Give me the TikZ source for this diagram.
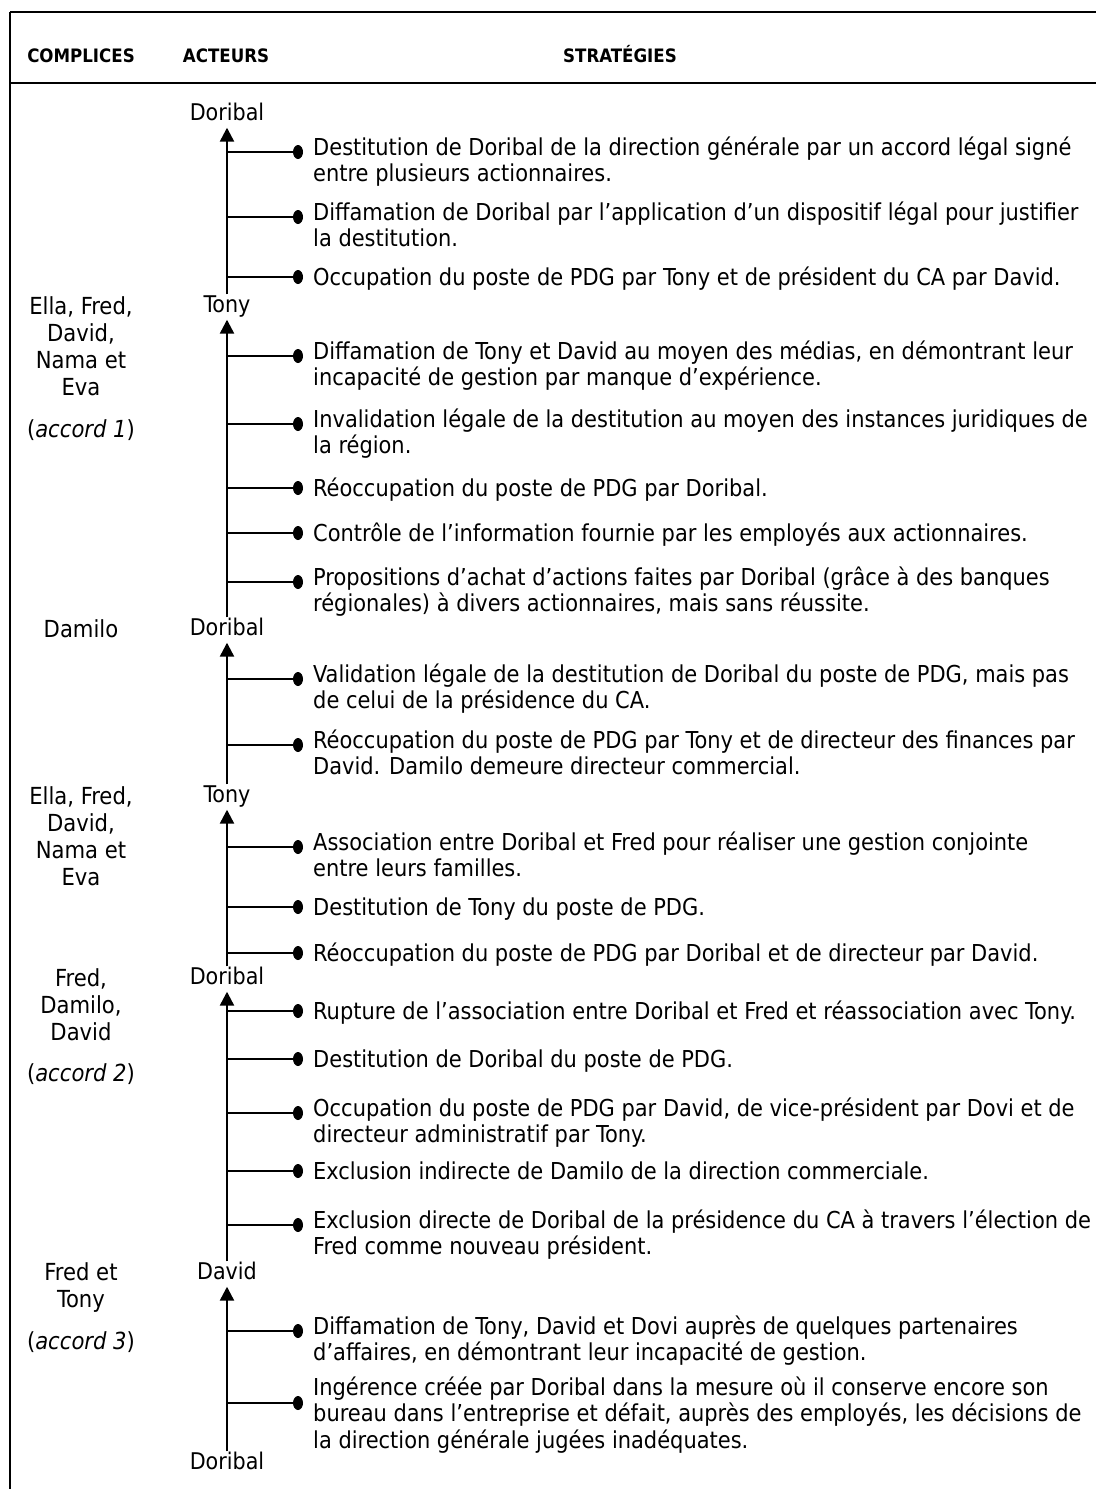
\documentclass[tikz,border=0pt]{standalone}
\usepackage{fontspec}
\setmainfont{DejaVu Sans Condensed}
\usetikzlibrary{arrows.meta,shapes.geometric}

% one strategy: name, branch height, first baseline, text lines
\newcommand\strat[4]{%
  \coordinate (#1a) at (227,#2);
  \node[dotmark] (#1d) at (298,#2) {};
  \draw[branch] (#1a) -- (#1d);
  \node[strattext] (#1t) at (313,#3) {\begin{tabular}[t]{@{}l@{}}#4\end{tabular}};
}

\begin{document}
\begin{tikzpicture}[x=1pt,y=-1pt,
  rule/.style={line width=1.6pt},
  axisline/.style={line width=2.4pt,-{Triangle[width=14pt,length=14pt]}},
  branch/.style={line width=2pt},
  dotmark/.style={ellipse,fill=black,inner sep=0pt,minimum width=10pt,minimum height=14pt},
  strattext/.style={anchor=base west,inner sep=0pt,font=\fontsize{23.3}{26.5}\selectfont},
  actor/.style={inner sep=2pt,text height=16pt,text depth=5pt,font=\fontsize{23}{26.5}\selectfont},
  accomp/.style={anchor=base,inner sep=0pt,font=\fontsize{23.5}{27}\selectfont},
  head/.style={anchor=base,inner sep=0pt,font=\fontsize{18.5}{22}\selectfont\bfseries}]

\useasboundingbox (0,0) rectangle (1096,1489);

% table frame
\draw[rule] (10,12) -- (1096,12);
\draw[rule] (10,83) -- (1096,83);
\draw[rule] (10,12) -- (10,1489);

% column heads
\node[head] (hc) at (81,62) {COMPLICES};
\node[head] (ha) at (226,62) {ACTEURS};
\node[head] (hs) at (620,62) {STRATÉGIES};

% actors along the axis
\node[actor] (a1) at (227,115) {Doribal};
\node[actor] (a2) at (227,307) {Tony};
\node[actor] (a3) at (227,630) {Doribal};
\node[actor] (a4) at (227,797) {Tony};
\node[actor] (a5) at (227,979) {Doribal};
\node[actor] (a6) at (227,1274) {David};
\node[actor] (a7) at (227,1464) {Doribal};

\draw[axisline] (a2.north) -- (a1.south);
\draw[axisline] (a3.north) -- (a2.south);
\draw[axisline] (a4.north) -- (a3.south);
\draw[axisline] (a5.north) -- (a4.south);
\draw[axisline] (a6.north) -- (a5.south);
\draw[axisline] (a7.north) -- (a6.south);

% accomplices
\node[accomp] (c1) at (81,314) {\begin{tabular}[t]{@{}c@{}}Ella, Fred,\\David,\\Nama et\\Eva\end{tabular}};
\node[accomp] (c1n) at (81,437) {(\textit{accord 1})};
\node[accomp] (c2) at (81,637) {Damilo};
\node[accomp] (c3) at (81,804) {\begin{tabular}[t]{@{}c@{}}Ella, Fred,\\David,\\Nama et\\Eva\end{tabular}};
\node[accomp] (c4) at (81,986) {\begin{tabular}[t]{@{}c@{}}Fred,\\Damilo,\\David\end{tabular}};
\node[accomp] (c4n) at (81,1081) {(\textit{accord 2})};
\node[accomp] (c5) at (81,1280) {\begin{tabular}[t]{@{}c@{}}Fred et\\Tony\end{tabular}};
\node[accomp] (c5n) at (81,1349) {(\textit{accord 3})};

% strategies
\strat{s1}{152}{155}{Destitution de Doribal de la direction générale par un accord légal signé\\entre plusieurs actionnaires.}
\strat{s2}{217}{220}{Diffamation de Doribal par l’application d’un dispositif légal pour justifier\\la destitution.}
\strat{s3}{277}{285}{Occupation du poste de PDG par Tony et de président du CA par David.}
\strat{s4}{356}{359}{Diffamation de Tony et David au moyen des médias, en démontrant leur\\incapacité de gestion par manque d’expérience.}
\strat{s5}{424}{427}{Invalidation légale de la destitution au moyen des instances juridiques de\\la région.}
\strat{s6}{488}{496}{Réoccupation du poste de PDG par Doribal.}
\strat{s7}{533}{541}{Contrôle de l’information fournie par les employés aux actionnaires.}
\strat{s8}{582}{585}{Propositions d’achat d’actions faites par Doribal (grâce à des banques\\régionales) à divers actionnaires, mais sans réussite.}
\strat{s9}{679}{682}{Validation légale de la destitution de Doribal du poste de PDG, mais pas\\de celui de la présidence du CA.}
\strat{s10}{745}{748}{Réoccupation du poste de PDG par Tony et de directeur des finances par\\David. Damilo demeure directeur commercial.}
\strat{s11}{847}{850}{Association entre Doribal et Fred pour réaliser une gestion conjointe\\entre leurs familles.}
\strat{s12}{907}{915}{Destitution de Tony du poste de PDG.}
\strat{s13}{953}{961}{Réoccupation du poste de PDG par Doribal et de directeur par David.}
\strat{s14}{1011}{1019}{Rupture de l’association entre Doribal et Fred et réassociation avec Tony.}
\strat{s15}{1059}{1067}{Destitution de Doribal du poste de PDG.}
\strat{s16}{1113}{1116}{Occupation du poste de PDG par David, de vice-président par Dovi et de\\directeur administratif par Tony.}
\strat{s17}{1171}{1179}{Exclusion indirecte de Damilo de la direction commerciale.}
\strat{s18}{1225}{1228}{Exclusion directe de Doribal de la présidence du CA à travers l’élection de\\Fred comme nouveau président.}
\strat{s19}{1331}{1334}{Diffamation de Tony, David et Dovi auprès de quelques partenaires\\d’affaires, en démontrant leur incapacité de gestion.}
\strat{s20}{1403}{1395}{Ingérence créée par Doribal dans la mesure où il conserve encore son\\bureau dans l’entreprise et défait, auprès des employés, les décisions de\\la direction générale jugées inadéquates.}

\end{tikzpicture}
\end{document}
